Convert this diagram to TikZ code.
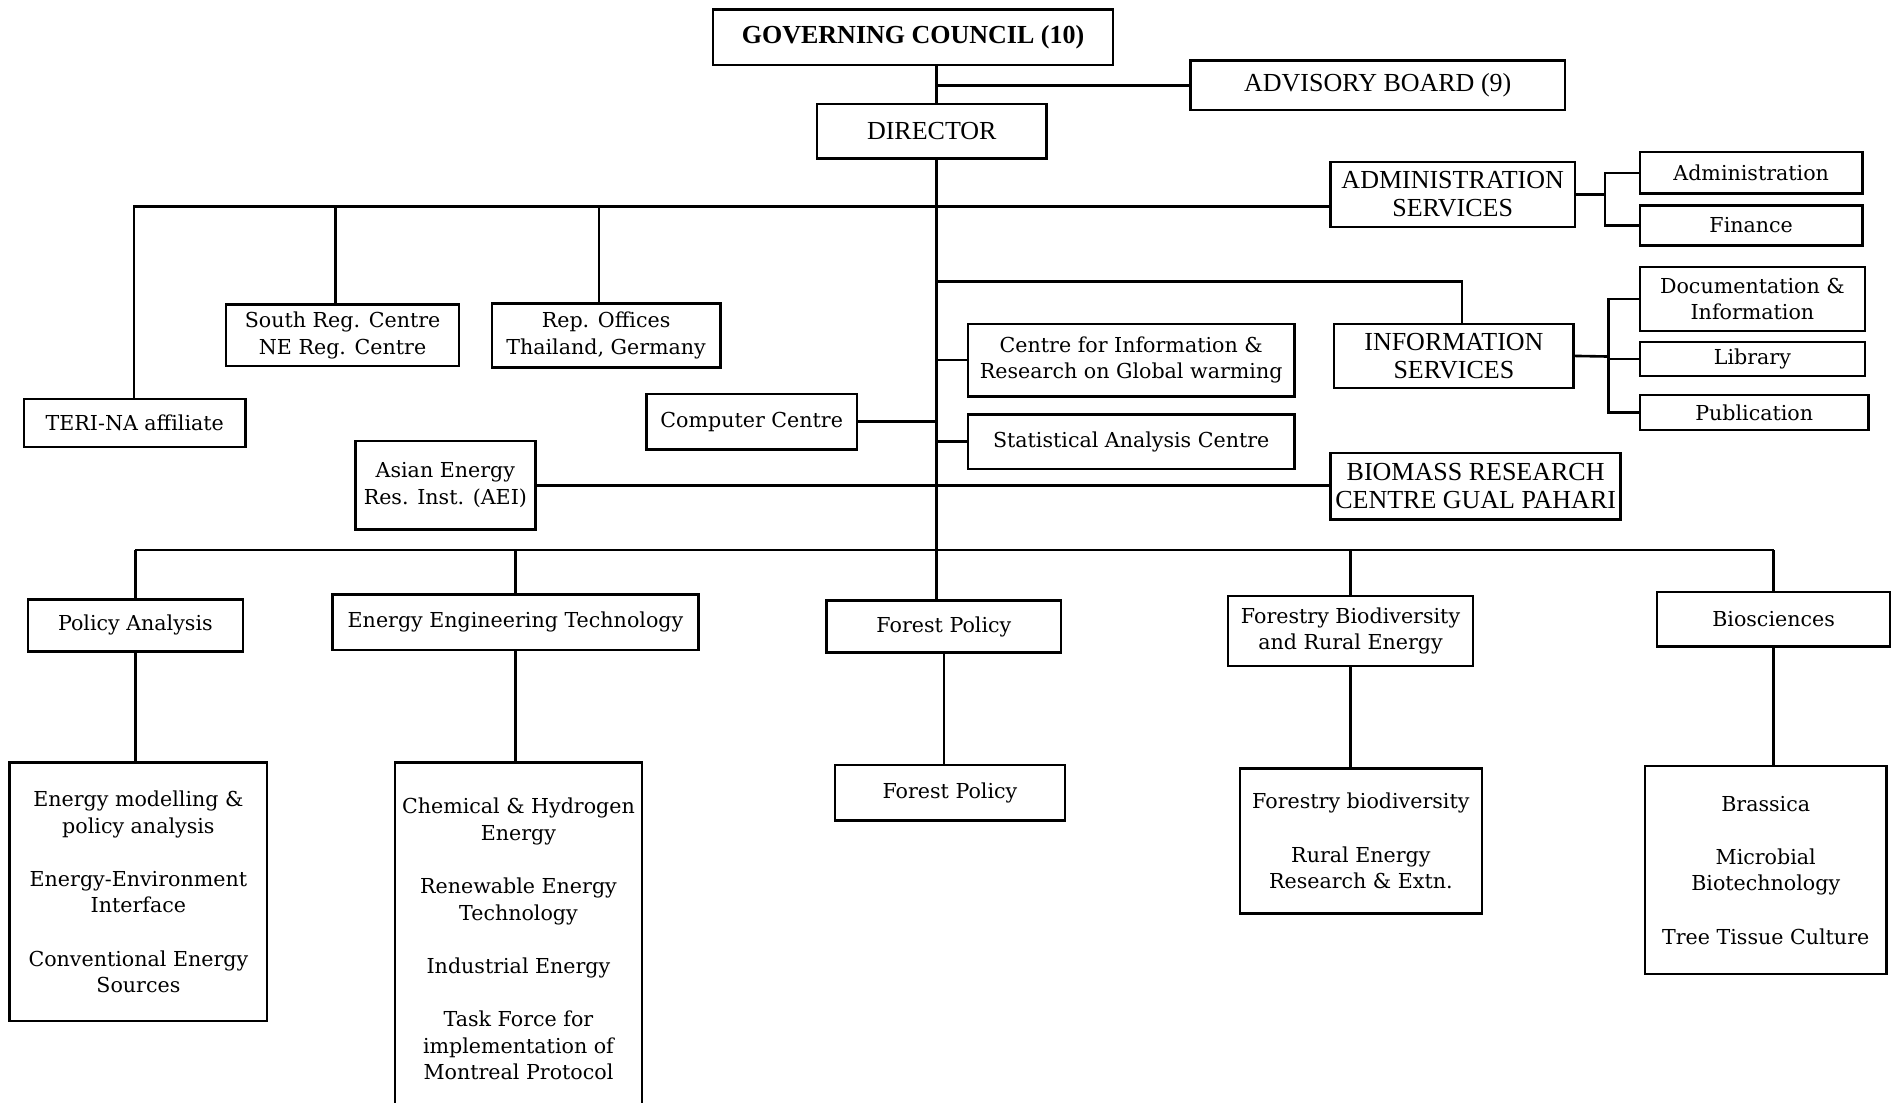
\documentclass[tikz,border=0pt]{standalone}
\usepackage{fontspec}
\setmainfont{DejaVu Serif}
\newfontfamily\capsfont{Liberation Serif}

\begin{document}
\begin{tikzpicture}[x=0.6043pt,y=-0.6043pt,
  font=\fontsize{10.3}{13.3}\selectfont,
  unit/.style={draw,line width=1.2pt,align=center,inner sep=0pt},
  sz/.style 2 args={minimum width=#1*0.6043pt,minimum height=#2*0.6043pt},
  head/.style={font=\capsfont\fontsize{13}{14}\selectfont},
  link/.style={line width=1.3pt}]
\useasboundingbox (0,0) rectangle (1568,912);
% top of the tree
\node[unit,sz={331}{46},font=\capsfont\bfseries\fontsize{13}{14}\selectfont] (gc) at (755.5,31) {GOVERNING COUNCIL (10)};
\node[unit,head,sz={310}{41}] (ab) at (1140,70.5) {ADVISORY BOARD (9)};
\node[unit,head,sz={190}{45}] (dir) at (771,108.5) {DIRECTOR};
% services on the right
\node[unit,head,sz={202}{54}] (as) at (1202,161) {ADMINISTRATION\\SERVICES};
\node[unit,sz={184}{34}] (adm) at (1449,143) {Administration};
\node[unit,sz={184}{33}] (fin) at (1449,186.5) {Finance};
\node[unit,head,sz={198}{53}] (is) at (1203,294.5) {INFORMATION\\SERVICES};
\node[unit,sz={186}{53}] (doc) at (1450,247.5) {Documentation \&\\Information};
\node[unit,sz={186}{28}] (lib) at (1450,297) {Library};
\node[unit,sz={189}{29}] (pub) at (1451.5,341.5) {Publication};
% centres off the trunk
\node[unit,sz={270}{60}] (ci) at (936,298) {Centre for Information \&\\Research on Global warming};
\node[unit,sz={270}{45}] (sac) at (936,365.5) {Statistical Analysis Centre};
\node[unit,sz={174}{46}] (cc) at (622,349) {Computer Centre};
\node[unit,sz={193}{51}] (sr) at (283.5,277.5) {South Reg. Centre\\NE Reg. Centre};
\node[unit,sz={189}{53}] (ro) at (501.5,277.5) {Rep. Offices\\Thailand, Germany};
\node[unit,sz={183}{40}] (teri) at (111.5,350) {TERI-NA affiliate};
\node[unit,sz={149}{73}] (aei) at (368.5,401.5) {Asian Energy\\Res. Inst. (AEI)};
\node[unit,head,sz={240}{55}] (bio) at (1221,402.5) {BIOMASS RESEARCH\\CENTRE GUAL PAHARI};
% divisions
\node[unit,sz={178}{43}] (pa) at (112,517.5) {Policy Analysis};
\node[unit,sz={303}{46}] (eet) at (426.5,515) {Energy Engineering Technology};
\node[unit,sz={194}{43}] (fp) at (781,518.5) {Forest Policy};
\node[unit,sz={203}{58}] (fbre) at (1117.5,522) {Forestry Biodiversity\\and Rural Energy};
\node[unit,sz={193}{45}] (bs) at (1467.5,512.5) {Biosciences};
% areas
\node[unit,sz={213}{214}] (empa) at (114.5,738) {Energy modelling \&\\policy analysis\\[13.3pt]Energy-Environment\\Interface\\[13.3pt]Conventional Energy\\Sources};
\node[unit,sz={204}{292}] (che) at (429,777) {Chemical \& Hydrogen\\Energy\\[13.3pt]Renewable Energy\\Technology\\[13.3pt]Industrial Energy\\[13.3pt]Task Force for\\implementation of\\Montreal Protocol};
\node[unit,sz={190}{46}] (fp2) at (786,656) {Forest Policy};
\node[unit,sz={200}{120}] (fb) at (1126,696) {Forestry biodiversity\\[13.3pt]Rural Energy\\Research \& Extn.};
\node[unit,sz={200}{172}] (br) at (1461,720) {Brassica\\[13.3pt]Microbial\\Biotechnology\\[13.3pt]Tree Tissue Culture};
% connectors
\coordinate (trunk) at (775,0);
\coordinate (left) at (111,171);
\coordinate (inf) at (775,233);
\coordinate (bus) at (0,455);
\coordinate (brA) at (1328,161);
\coordinate (brI) at (1331,295);
\draw[link] (gc.south -| trunk) -- (dir.north -| trunk);
\draw[link] (ab.west) -- (ab.west -| trunk);
\draw[link] (dir.south -| trunk) -- (fp.north -| trunk);
\draw[link] (as.west |- left) -- (left) -- (left |- teri.north);
\draw[link] ([xshift=-3.5pt]sr.north) -- ([xshift=-3.5pt]sr.north |- left);
\draw[link] ([xshift=-3.5pt]ro.north) -- ([xshift=-3.5pt]ro.north |- left);
\draw[link] (as.east) -- (brA);
\draw[link] (adm.west) -| (brA) |- (fin.west);
\draw[link] (inf) -| ([xshift=4pt]is.north);
\draw[link] (is.east) -- (brI);
\draw[link] (doc.west) -| (brI) |- (pub.west);
\draw[link] (lib.west) -- (lib.west -| brI);
\draw[link] (ci.west) -- (ci.west -| trunk);
\draw[link] (sac.west) -- (sac.west -| trunk);
\draw[link] (cc.east) -- (cc.east -| trunk);
\draw[link] (aei.east) -- (aei.east -| bio.west);
\draw[link] (pa.north |- bus) -- (bs.north |- bus);
\foreach \n in {pa,eet,fbre,bs}
  \draw[link] (\n.north) -- (\n.north |- bus);
\foreach \a/\b in {pa/empa,eet/che,fp/fp2,fbre/fb,bs/br}
  \draw[link] (\a.south) -- (\a.south |- \b.north);
\end{tikzpicture}
\end{document}
